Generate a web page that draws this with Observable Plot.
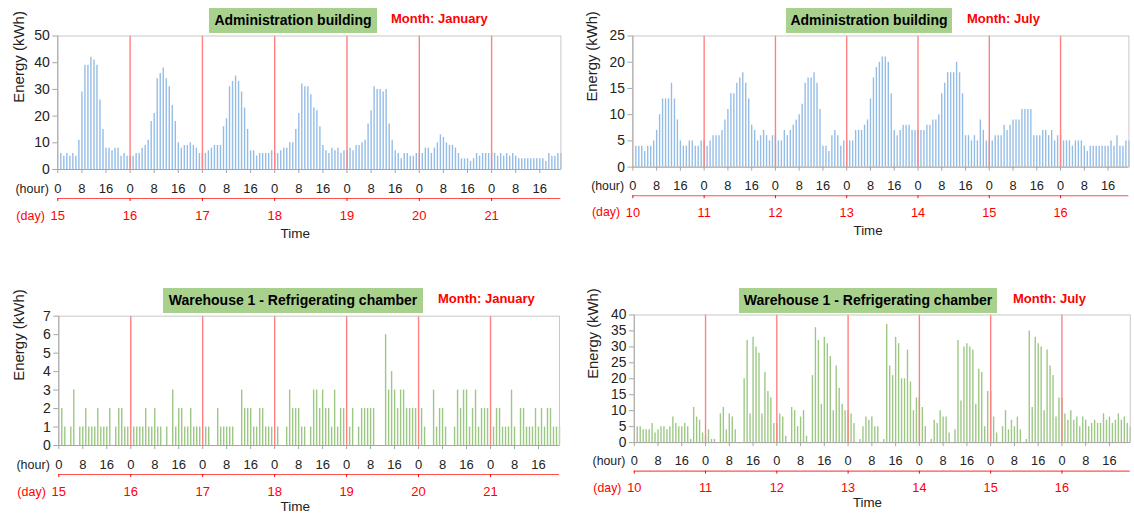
<!DOCTYPE html>
<html><head><meta charset="utf-8">
<script src="https://cdn.jsdelivr.net/npm/d3@7"></script>
<script src="https://cdn.jsdelivr.net/npm/@observablehq/plot@0.6"></script>
<style>
html,body{margin:0;padding:0;background:#fff;}
#wrap{position:relative;width:1134px;height:515px;overflow:hidden;font-family:"Liberation Sans",Arial,sans-serif;}
.panel{position:absolute;}
.tbox{position:absolute;background:#a9d18e;color:#000;font-weight:bold;font-size:14px;text-align:center;height:25px;line-height:25px;white-space:nowrap;}
.month{position:absolute;color:#ff0000;font-weight:bold;font-size:13px;line-height:15px;white-space:nowrap;}
</style></head><body><div id="wrap"></div>
<script>
// ---- tick labels / categories ----
const januaryDays = ["15","16","17","18","19","20","21"];
const julyDays = ["10","11","12","13","14","15","16"];
const hourTickValues = [0,8,16,24,32,40,48,56,64,72,80,88,96,104,112,120,128,136,144,152,160];
const dayTickValues = [0,24,48,72,96,120,144];

// ---- Administration building, January (kWh per hour, one array per day) ----
const adminJan15 = [6,5,6,5,6,5,11,29,39,39,42,41,39,26,15,8,8,7,8,8,5,6,5,5];
const adminJan16 = [5,6,6,8,9,11,18,21,34,36,38,34,31,24,18,10,8,9,9,10,9,8,6,6];
const adminJan17 = [6,7,8,9,9,9,16,19,31,33,35,33,29,23,15,7,7,5,6,6,6,6,7,6];
const adminJan18 = [6,7,8,8,10,10,15,21,32,31,31,28,23,22,16,9,7,6,8,7,8,6,7,7];
const adminJan19 = [8,7,9,9,10,11,17,22,31,30,30,29,30,17,11,7,6,4,6,6,5,5,6,6];
const adminJan20 = [6,8,8,6,8,10,13,12,10,9,9,8,6,4,4,4,3,4,6,5,6,6,6,6];
const adminJan21 = [6,5,6,5,6,5,6,5,4,4,4,4,4,4,4,4,4,3,6,5,5,6,6,6];

// ---- Administration building, July ----
const adminJul10 = [4,4,4,3,4,4,5,7,10,13,13,13,16,13,9,5,4,4,5,5,4,4,5,5];
const adminJul11 = [4,5,6,6,6,7,9,11,14,14,16,17,18,16,13,8,7,5,6,7,6,5,6,6];
const adminJul12 = [5,5,7,6,7,8,9,10,12,16,17,17,18,16,11,4,4,3,6,7,6,4,5,5];
const adminJul13 = [5,5,7,7,7,8,9,13,17,19,20,21,21,20,14,7,6,7,8,8,8,7,7,7];
const adminJul14 = [7,7,8,8,9,9,10,14,16,18,18,18,20,18,14,6,6,5,6,5,9,7,5,5];
const adminJul15 = [5,6,6,6,8,7,8,9,9,9,11,11,11,11,6,6,6,7,7,6,7,5,6,6];
const adminJul16 = [5,5,5,4,5,5,5,4,3,4,4,4,4,4,4,4,5,4,6,4,4,5,5,5];

// ---- Warehouse 1 - Refrigerating chamber, January ----
const wareJan15 = [2,1,0,1,3,0,1,1,2,1,1,1,2,1,1,1,2,0,1,2,2,1,1,0];
const wareJan16 = [1,1,1,1,2,1,1,2,1,1,0,1,0,3,1,2,2,1,1,2,1,1,1,0];
const wareJan17 = [1,1,0,0,2,1,1,1,1,1,0,0,3,2,2,2,1,1,2,2,1,1,1,0];
const wareJan18 = [1,0,0,1,3,2,2,2,1,1,0,1,3,3,2,3,2,2,1,3,1,2,2,0];
const wareJan19 = [1,2,0,1,2,2,2,2,2,0,0,0,6,3,4,3,2,3,3,2,2,2,2,0];
const wareJan20 = [2,1,0,0,3,1,2,2,1,0,0,1,3,2,3,3,1,2,3,1,2,2,2,0];
const wareJan21 = [1,2,2,1,1,1,3,1,0,2,2,1,1,1,2,1,2,1,2,2,1,1,1,1];

// ---- Warehouse 1 - Refrigerating chamber, July ----
const wareJul10 = [5,5,4,4,4,6,3,4,5,5,4,5,8,6,5,5,6,5,1,11,8,7,3,2];
const wareJul11 = [4,1,1,0,9,11,4,9,8,4,0,0,20,32,9,33,30,28,9,22,16,14,6,6];
const wareJul12 = [9,8,2,0,11,10,5,8,10,2,0,21,36,32,12,33,31,27,10,24,17,12,10,10];
const wareJul13 = [9,6,0,1,5,8,7,8,5,5,0,1,37,24,21,33,31,20,20,29,19,10,14,14];
const wareJul14 = [11,5,0,1,7,6,10,8,8,3,0,4,32,13,30,31,30,29,12,23,22,5,16,16];
const wareJul15 = [8,3,0,5,10,4,7,5,8,4,0,1,35,11,33,31,30,10,29,24,21,8,14,14];
const wareJul16 = [9,7,10,7,8,5,8,7,5,6,7,6,6,9,7,8,6,7,9,7,8,6,5,4];

const FONT = "'Liberation Sans', Arial, sans-serif";
const RED = "#ff0000";

function panel(o) {
  const data = o.days.flatMap((vals, d) => vals.map((v, k) => ({pos: d * 24 + k + 1, v})))
    .filter(d => d.pos <= 167);
  return Plot.plot({
    width: o.width, height: o.height,
    marginLeft: o.ml, marginRight: o.mr, marginTop: o.mt, marginBottom: o.mb,
    style: {fontFamily: FONT, fontSize: "13px", color: "#222", background: "transparent", overflow: "visible"},
    x: {domain: [0, 167], axis: null},
    y: {domain: [0, o.yMax], axis: null},
    marks: [
      Plot.ruleX(data, {x: "pos", y1: 0, y2: "v", stroke: o.color, strokeWidth: 1.4}),
      Plot.ruleX(dayTickValues.slice(1), {stroke: "#ff8080", strokeWidth: 1.4}),
      Plot.frame({stroke: "#c8c8c8"}),
      Plot.ruleX([0], {stroke: "#a6a6a6"}),
      Plot.ruleY([0], {stroke: "#a6a6a6"}),
      Plot.axisY({ticks: d3.range(0, o.yMax + o.yStep / 2, o.yStep), tickFormat: d => String(d), tickSize: 5, tickPadding: 3,
        stroke: "#a6a6a6", color: "#222", fontSize: 14, label: null}),
      Plot.axisX({ticks: hourTickValues, tickFormat: d => String(d % 24), tickSize: 4, tickPadding: 10,
        stroke: "#a6a6a6", color: "#222", fontSize: 13, label: null}),
      Plot.ruleY([0], {dy: 29, stroke: "#ff5050", strokeWidth: 1.2}),
      Plot.axisX({ticks: dayTickValues, tickFormat: d => o.dayLabels[d / 24], dy: 29, tickSize: 3, tickPadding: 9,
        color: RED, fontSize: 13, label: null}),
      Plot.text(["(hour)"], {frameAnchor: "bottom-left", dx: -9, dy: 19, textAnchor: "end", lineAnchor: "middle", fontSize: 12.5, fill: "#222"}),
      Plot.text(["(day)"], {frameAnchor: "bottom-left", dx: -13, dy: 46, textAnchor: "end", lineAnchor: "middle", fontSize: 12.5, fill: RED}),
      Plot.text(["Time"], {frameAnchor: "bottom", dx: o.timeDx, dy: o.timeDy, lineAnchor: "middle", fontSize: 13.5, fill: "#222"}),
      Plot.text(["Energy (kWh)"], {frameAnchor: "left", dx: o.ylabDx, rotate: -90, lineAnchor: "middle", fontSize: 15, fill: "#222"})
    ]
  });
}

const wrap = document.getElementById("wrap");
function place(el, left, top) {
  const d = document.createElement("div");
  d.className = "panel";
  d.style.left = left + "px";
  d.style.top = top + "px";
  d.appendChild(el);
  wrap.appendChild(d);
}
function label(cls, text, left, top, width) {
  const d = document.createElement("div");
  d.className = cls;
  d.textContent = text;
  d.style.left = left + "px";
  d.style.top = top + "px";
  if (width) d.style.width = width + "px";
  wrap.appendChild(d);
}

place(panel({days: [adminJan15, adminJan16, adminJan17, adminJan18, adminJan19, adminJan20, adminJan21],
  dayLabels: januaryDays, yMax: 50, yStep: 10, color: "#94bde6",
  width: 567, height: 257, ml: 57.3, mr: 6.6, mt: 35.5, mb: 88, timeDx: -14, timeDy: 64, ylabDx: -39}), 0, 0);
place(panel({days: [adminJul10, adminJul11, adminJul12, adminJul13, adminJul14, adminJul15, adminJul16],
  dayLabels: julyDays, yMax: 25, yStep: 5, color: "#94bde6",
  width: 575, height: 257, ml: 66.3, mr: 5.7, mt: 36, mb: 88, timeDx: -13, timeDy: 64, ylabDx: -41}), 567, 0);
place(panel({days: [wareJan15, wareJan16, wareJan17, wareJan18, wareJan19, wareJan20, wareJan21],
  dayLabels: januaryDays, yMax: 7, yStep: 1, color: "#9cc884",
  width: 567, height: 258, ml: 58.3, mr: 8, mt: 58.7, mb: 70, timeDx: -14, timeDy: 61, ylabDx: -40}), 0, 257);
place(panel({days: [wareJul10, wareJul11, wareJul12, wareJul13, wareJul14, wareJul15, wareJul16],
  dayLabels: julyDays, yMax: 40, yStep: 5, color: "#9cc884",
  width: 575, height: 258, ml: 67.7, mr: 4.3, mt: 58.3, mb: 70.3, timeDx: -15, timeDy: 61, ylabDx: -42}), 567, 257);

label("tbox", "Administration building", 209, 8, 168);
label("month", "Month: January", 391, 11);
label("tbox", "Administration building", 786, 8, 166);
label("month", "Month: July", 967, 11);
label("tbox", "Warehouse 1 - Refrigerating chamber", 163, 288, 260);
label("month", "Month: January", 438, 291);
label("tbox", "Warehouse 1 - Refrigerating chamber", 739, 288, 258);
label("month", "Month: July", 1013, 291);
</script>
</body></html>
